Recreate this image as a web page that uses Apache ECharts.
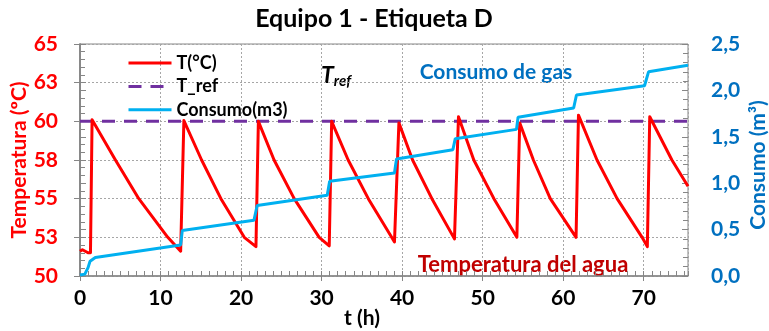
<!DOCTYPE html>
<html>
<head>
<meta charset="utf-8">
<script src="https://cdn.jsdelivr.net/npm/echarts@6/dist/echarts.min.js"></script>
<style>
html,body{margin:0;padding:0;background:#fff;}
#chart{width:769px;height:331px;}
</style>
</head>
<body>
<div id="chart"></div>
<script>
// ---- data ----
var tempTimes  = [0, 0.3, 1.0, 1.3, 1.5, 4.4, 7.3, 10.9, 12.5,
                  12.9, 15.1, 17.5, 20.4, 21.85,
                  22.15, 24.1, 26.6, 29.7, 30.95,
                  31.25, 33.3, 35.8, 38.7, 39.05,
                  39.6, 41.3, 43.7, 46.5,
                  47.0, 48.9, 51.4, 54.25,
                  54.6, 56.3, 58.4, 61.6,
                  61.9, 64.2, 66.7, 69.8, 70.45,
                  70.75, 73.5, 75.5];
var tempValues = [51.6, 51.7, 51.5, 51.5, 60.1, 57.5, 55.0, 52.5, 51.6,
                  60.05, 57.5, 55.0, 52.5, 51.9,
                  60.0, 57.5, 55.0, 52.5, 51.95,
                  60.0, 57.5, 55.0, 52.5, 52.2,
                  59.9, 57.5, 55.0, 52.4,
                  60.3, 57.5, 55.0, 52.5,
                  59.9, 57.5, 55.0, 52.5,
                  60.4, 57.5, 55.0, 52.5, 51.9,
                  60.3, 57.5, 55.8];
var consTimes  = [0, 0.6, 1.0, 1.25, 1.9, 12.5, 12.7, 21.6, 22.0, 30.7, 31.0, 39.05, 39.3, 46.3, 46.6, 54.2, 54.4, 61.3, 61.65, 70.1, 70.6, 75.5];
var consValues = [0.01, 0.02, 0.09, 0.16, 0.20, 0.335, 0.49, 0.60, 0.76, 0.87, 1.02, 1.11, 1.26, 1.36, 1.48, 1.58, 1.71, 1.81, 1.95, 2.05, 2.20, 2.27];
var refTimes   = [0, 75.5];
var refValues  = [60, 60];
var seriesNames = ['T(°C)', 'T_ref', 'Consumo(m3)'];

function pairs(xs, ys){ return xs.map(function(x,i){ return [x, ys[i]]; }); }

var FONT = 'Lato';
var chart = echarts.init(document.getElementById('chart'), null, {renderer:'canvas'});

var axisGray = '#868686';
var gridGray = '#A6A6A6';

chart.setOption({
  animation: false,
  backgroundColor: '#ffffff',
  grid: {left: 80, right: 81, top: 44, bottom: 55, show: true, borderColor: axisGray, borderWidth: 1, backgroundColor: 'transparent'},
  legend: {
    data: seriesNames,
    orient: 'vertical',
    left: 127, top: 54, padding: 0,
    itemWidth: 43, itemHeight: 14, itemGap: 5.4,
    itemStyle: {opacity: 0},
    lineStyle: {width: 3},
    textStyle: {fontFamily: FONT, fontWeight: 'bold', fontSize: 18, color: '#000', lineHeight: 14}
  },
  xAxis: [{
    type: 'value', min: 0, max: 75.5, interval: 10,
    axisLine: {show: true, lineStyle: {color: axisGray, width: 1.5}},
    axisTick: {show: true, inside: false, length: 5, lineStyle: {color: axisGray, width: 1}},
    axisLabel: {fontFamily: FONT, fontWeight: 'bold', fontSize: 21, color: '#000', margin: 12, showMaxLabel: false},
    splitLine: {show: true, lineStyle: {color: gridGray, type: [2,2], width: 1}}
  }, {
    type: 'value', min: 0, max: 75.5, interval: 10, position: 'bottom', gridIndex: 0,
    axisLine: {show: false},
    axisTick: {show: true, inside: true, length: 5, lineStyle: {color: axisGray, width: 1}},
    minorTick: {show: true, splitNumber: 10, length: 5, lineStyle: {color: axisGray, width: 1}},
    axisLabel: {show: false},
    splitLine: {show: false}
  }],
  yAxis: [{
    type: 'value', min: 50, max: 65, interval: 2.5, position: 'left',
    axisLine: {show: true, lineStyle: {color: axisGray, width: 1.5}},
    axisTick: {show: true, inside: false, length: 6, lineStyle: {color: axisGray, width: 1}},
    axisLabel: {fontFamily: FONT, fontWeight: 'bold', fontSize: 21, color: '#FF0000', margin: 22,
      formatter: function(v){ return String(Math.round(v)); }},
    splitLine: {show: true, lineStyle: {color: gridGray, type: [2,2], width: 1}}
  }, {
    type: 'value', min: 0, max: 2.5, interval: 0.5, position: 'right',
    axisLine: {show: true, lineStyle: {color: axisGray, width: 1.5}},
    axisTick: {show: true, inside: false, length: 6, lineStyle: {color: axisGray, width: 1}},
    axisLabel: {fontFamily: FONT, fontWeight: 'bold', fontSize: 21, color: '#0070C0', margin: 23,
      formatter: function(v){ return v.toFixed(1).replace('.', ','); }},
    splitLine: {show: false}
  }, {
    type: 'value', min: 50, max: 65, interval: 2.5, position: 'left',
    axisLine: {show: false},
    axisTick: {show: true, inside: true, length: 6, lineStyle: {color: axisGray, width: 1}},
    minorTick: {show: true, splitNumber: 5, length: 5, lineStyle: {color: axisGray, width: 1}},
    axisLabel: {show: false}, splitLine: {show: false}
  }, {
    type: 'value', min: 0, max: 2.5, interval: 0.5, position: 'right',
    axisLine: {show: false},
    axisTick: {show: true, inside: true, length: 6, lineStyle: {color: axisGray, width: 1}},
    minorTick: {show: true, splitNumber: 5, length: 5, lineStyle: {color: axisGray, width: 1}},
    axisLabel: {show: false}, splitLine: {show: false}
  }],
  series: [{
    name: seriesNames[1], type: 'line', xAxisIndex: 0, yAxisIndex: 0,
    data: pairs(refTimes, refValues), symbol: 'none',
    lineStyle: {color: '#7030A0', width: 3, type: [13, 9]}, itemStyle: {color: '#7030A0'}
  }, {
    name: seriesNames[0], type: 'line', xAxisIndex: 0, yAxisIndex: 0,
    data: pairs(tempTimes, tempValues), symbol: 'none',
    lineStyle: {color: '#FF0000', width: 3, join: 'round'}, itemStyle: {color: '#FF0000'}
  }, {
    name: seriesNames[2], type: 'line', xAxisIndex: 0, yAxisIndex: 1,
    data: pairs(consTimes, consValues), symbol: 'none',
    lineStyle: {color: '#00B0F0', width: 3}, itemStyle: {color: '#00B0F0'}
  }],
  graphic: [
    {type: 'text', x: 374, y: 19, style: {text: 'Equipo 1 - Etiqueta D', font: 'bold 25px ' + FONT, fill: '#000', textAlign: 'center', textVerticalAlign: 'middle'}},
    {type: 'text', x: 19, y: 160, rotation: Math.PI/2, style: {text: 'Temperatura (ºC)', font: 'bold 21px ' + FONT, fill: '#FF0000', textAlign: 'center', textVerticalAlign: 'middle'}},
    {type: 'text', x: 758, y: 165, rotation: Math.PI/2, style: {text: 'Consumo (m³)', font: 'bold 21px ' + FONT, fill: '#0070C0', textAlign: 'center', textVerticalAlign: 'middle'}},
    {type: 'text', x: 362, y: 318, style: {text: 't (h)', font: 'bold 21px ' + FONT, fill: '#000', textAlign: 'center', textVerticalAlign: 'middle'}},
    {type: 'text', x: 496, y: 72, style: {text: 'Consumo de gas', font: 'bold 21px ' + FONT, fill: '#0070C0', textAlign: 'center', textVerticalAlign: 'middle'}},
    {type: 'text', x: 523, y: 265, style: {text: 'Temperatura del agua', font: 'bold 22px ' + FONT, fill: '#C00000', textAlign: 'center', textVerticalAlign: 'middle'}},
    {type: 'text', x: 321, y: 76, style: {text: '{a|T}{b|ref}', textAlign: 'left', textVerticalAlign: 'middle',
      rich: {a: {font: 'italic bold 23px ' + FONT, fill: '#000', color: '#000'}, b: {font: 'italic bold 15px ' + FONT, fill: '#000', color: '#000', padding: [10,0,0,0]}}}}
  ]
});
</script>
</body>
</html>
